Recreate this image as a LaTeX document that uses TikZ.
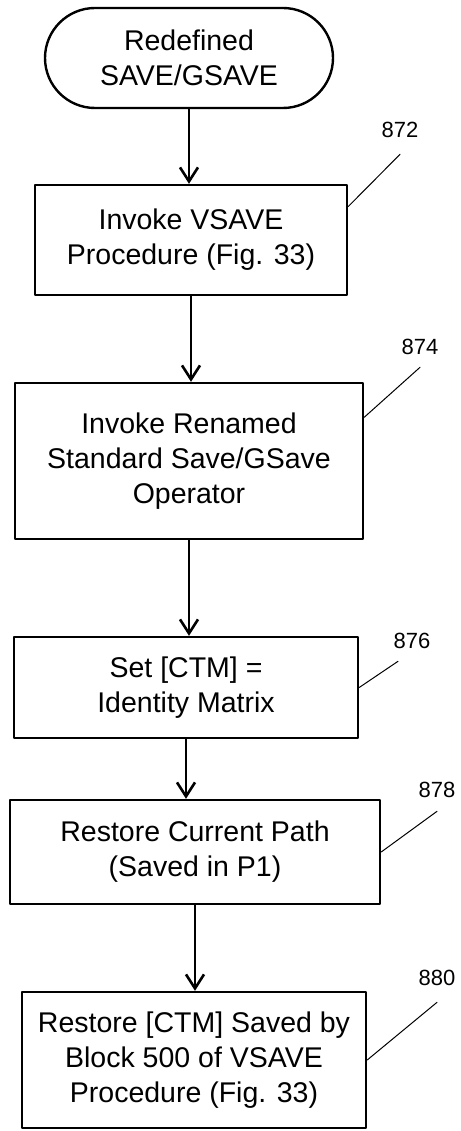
\documentclass[tikz,border=0pt]{standalone}
\usepackage{fontspec}
\setmainfont{Liberation Sans}
\usetikzlibrary{arrows.meta}

\begin{document}
\begin{tikzpicture}[x=1pt, y=-1pt, line width=2.4pt, line cap=round, line join=round,
    blocco/.style={draw, rectangle, align=center, inner sep=0pt, font=\fontsize{28.5}{35}\selectfont},
    freccia/.style={-{Straight Barb[length=14pt,width=18pt]}, line width=2.6pt},
    rif/.style={font=\fontsize{22}{24}\selectfont},
    guida/.style={line width=1pt}]
        % Cornice
        \useasboundingbox (0,0) rectangle (460,1131);
        % Inizio
        \node[blocco, rounded corners=50pt, minimum width=288pt, minimum height=100pt] (start) at (189,58) {Redefined\\SAVE/GSAVE};
        % Blocchi
        \node[blocco, minimum width=312pt, minimum height=110pt] (box1) at (191,240) {Invoke VSAVE\\Procedure (Fig. 33)};
        \node[blocco, minimum width=348pt, minimum height=156pt] (box2) at (189,461) {Invoke Renamed\\Standard Save/GSave\\Operator};
        \node[blocco, minimum width=344pt, minimum height=101pt] (box3) at (186,687.5) {Set [CTM] =\\Identity Matrix};
        \node[blocco, minimum width=370pt, minimum height=104pt] (box4) at (195,852) {Restore Current Path\\(Saved in P1)};
        \node[blocco, minimum width=344pt, minimum height=136pt] (box5) at (194,1060) {Restore [CTM] Saved by\\Block 500 of VSAVE\\Procedure (Fig. 33)};
        % Frecce
        \draw[freccia] (start) -- (start |- box1.north);
        \draw[freccia] (box1) -- (box1 |- box2.north);
        \draw[freccia] (box2) -- (box2 |- box3.north);
        \draw[freccia] (box3) -- (box3 |- box4.north);
        \draw[freccia] (box4) -- (box4 |- box5.north);
        % Numeri di riferimento
        \node[rif] (n872) at (400,130) {872};
        \node[rif] (n874) at (420,347) {874};
        \node[rif] (n876) at (412,641) {876};
        \node[rif] (n878) at (437,790) {878};
        \node[rif] (n880) at (437,978) {880};
        % Linee guida
        \draw[guida] (box1.12) -- ([yshift=-12pt]n872.south);
        \draw[guida] (box2.14) -- ([yshift=-8pt]n874.south);
        \draw[guida] (box3.east) -- ([xshift=-14pt,yshift=-8pt]n876.south);
        \draw[guida] (box4.east) -- ([yshift=-9pt]n878.south);
        \draw[guida] (box5.east) -- ([yshift=-12pt]n880.south);
\end{tikzpicture}
\end{document}
